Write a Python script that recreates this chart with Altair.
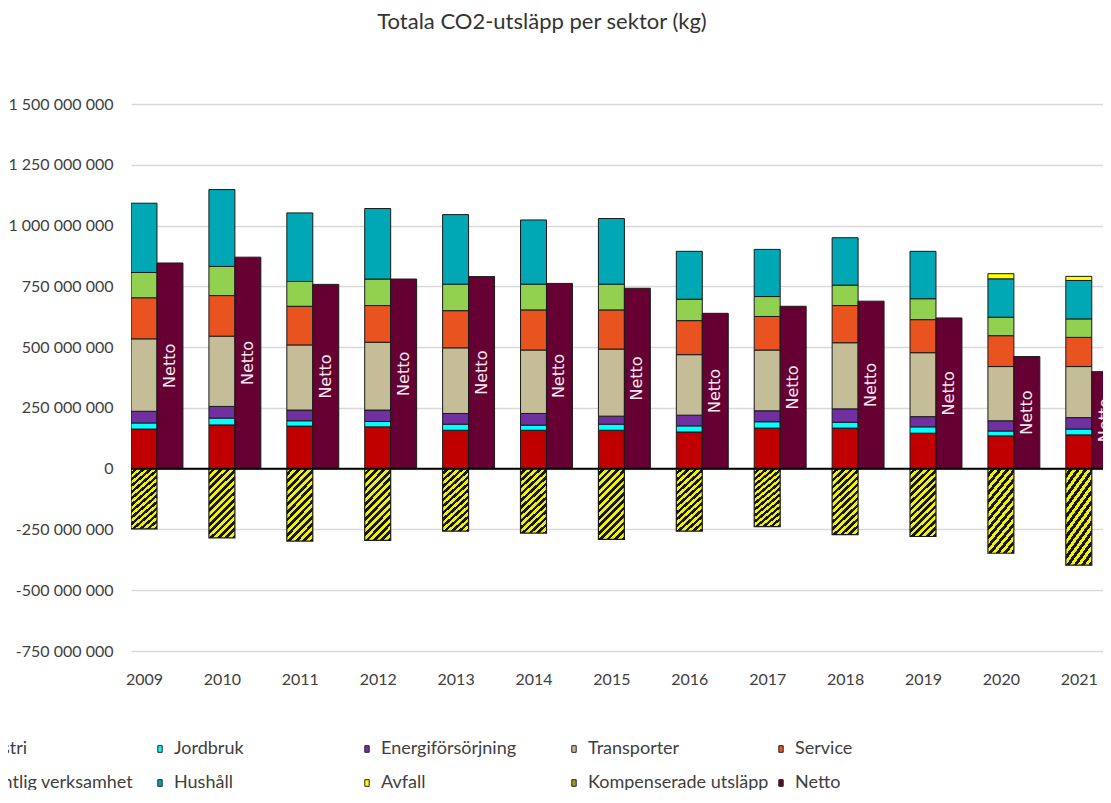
import altair as alt
import pandas as pd

# ---------------- data (values in millions of kg) ----------------
years = [2009, 2010, 2011, 2012, 2013, 2014, 2015, 2016, 2017, 2018, 2019, 2020, 2021]

industri = [163, 180, 175, 172, 158, 158, 158, 151, 167, 167, 146, 135, 139]
jordbruk = [25, 28, 22, 22, 25, 21, 25, 25, 26, 24, 26, 20, 24]
energi = [48, 48, 44, 47, 44, 48, 33, 44, 45, 55, 42, 42, 47]
transporter = [298, 289, 268, 279, 270, 261, 276, 249, 250, 272, 263, 223, 210]
service = [169, 167, 159, 151, 153, 165, 161, 140, 138, 153, 136, 127, 120]
offentlig = [104, 120, 102, 109, 109, 106, 106, 88, 82, 84, 86, 76, 76]
hushall = [285, 316, 282, 290, 286, 264, 270, 197, 194, 195, 195, 158, 158]
avfall = [0, 0, 0, 0, 0, 0, 0, 0, 0, 0, 0, 21, 17]
kompenserade = [-248, -285, -298, -295, -257, -265, -291, -257, -238, -271, -279, -348, -397]
netto = [846, 870, 758, 780, 790, 762, 742, 639, 668, 689, 620, 461, 399]

sectors = ["Industri", "Jordbruk", "Energiförsörjning", "Transporter", "Service",
           "Offentlig verksamhet", "Hushåll", "Avfall"]
series = [industri, jordbruk, energi, transporter, service, offentlig, hushall, avfall]
legend_names = sectors + ["Kompenserade utsläpp", "Netto"]
colors = ["#C00000", "#00FFFF", "#7030A0", "#C4BD97", "#E8531F",
          "#92D050", "#00A8B5", "#FFFF00", "#9E9E14", "#660033"]

y_ticks = [-750e6, -500e6, -250e6, 0, 250e6, 500e6, 750e6, 1000e6, 1250e6, 1500e6]
M = 1_000_000

rows = []
for i, (name, vals) in enumerate(zip(sectors, series)):
    for yr, v in zip(years, vals):
        if v > 0:
            rows.append({"year": yr, "sector": name, "order": i, "value": v * M})
stack_df = pd.DataFrame(rows)

single_df = pd.DataFrame({
    "year": years,
    "komp": [v * M for v in kompenserade],
    "netto": [v * M for v in netto],
})

# ---------------- styling ----------------
FONT = "Lato, Carlito, sans-serif"
step_px = 77.9
plot_w = 972
plot_h = 547
x0_dom = 2009 - 13 / step_px
x_scale = alt.Scale(domain=[x0_dom, x0_dom + plot_w / step_px], nice=False, zero=False)
y_scale = alt.Scale(domain=[-750e6, 1500e6], nice=False)

x_axis = alt.Axis(values=years, format="d", grid=False, ticks=False, domain=False,
                  labelFont=FONT, labelFontSize=16, labelColor="#404040",
                  labelPadding=20, title=None)
y_axis = alt.Axis(values=y_ticks, grid=True, gridColor="#d9d9d9", gridWidth=1.5,
                  ticks=False, domain=False, labelFont=FONT, labelFontSize=16,
                  labelColor="#404040", labelPadding=18, title=None,
                  labelExpr="(datum.value < 0 ? '-' : '') + replace(format(abs(datum.value), ',d'), regexp(',', 'g'), ' ')")

# hatch imitation for compensated emissions
n_stripes = 13
stops = []
for k in range(n_stripes):
    a = k / n_stripes
    b = (k + 0.5) / n_stripes
    c = (k + 1) / n_stripes
    stops += [{"offset": a, "color": "#F2F200"}, {"offset": b, "color": "#F2F200"},
              {"offset": b, "color": "#151515"}, {"offset": c, "color": "#151515"}]
hatch = {"gradient": "linear", "x1": 0, "y1": 0, "x2": 0.446, "y2": 1.205, "stops": stops}

legend = alt.Legend(orient="none", direction="horizontal", legendX=-187, legendY=636,
                    columns=5, title=None,
                    symbolType="M-0.4,-0.6H0.4V0.6H-0.4Z", symbolSize=121,
                    symbolStrokeColor="#262626", symbolStrokeWidth=1,
                    labelFont=FONT, labelFontSize=18, labelColor="#404040",
                    gridAlign="all", columnPadding=3, rowPadding=16,
                    labelOffset=5, padding=0, labelLimit=400)

stack = alt.Chart(stack_df).transform_stack(
    stack="value", groupby=["year"], sort=[alt.SortField("order", order="ascending")],
    as_=["v0", "v1"]
).transform_calculate(
    xa="datum.year - 1/6", xb="datum.year + 1/6"
).mark_bar(stroke="#1a1a1a", strokeWidth=1, clip=True).encode(
    x=alt.X("xa:Q", scale=x_scale, axis=x_axis),
    x2="xb:Q",
    y=alt.Y("v0:Q", scale=y_scale, axis=y_axis),
    y2="v1:Q",
    color=alt.Color("sector:N", scale=alt.Scale(domain=legend_names, range=colors), legend=legend),
)

komp = alt.Chart(single_df).transform_calculate(
    xa="datum.year - 1/6", xb="datum.year + 1/6", zero="0"
).mark_bar(fill=hatch, stroke="#1a1a1a", strokeWidth=1.2, clip=True).encode(
    x=alt.X("xa:Q", scale=x_scale, axis=x_axis),
    x2="xb:Q",
    y=alt.Y("komp:Q", scale=y_scale, axis=y_axis),
    y2="zero:Q",
)

netto_bars = alt.Chart(single_df).transform_calculate(
    xa="datum.year + 1/6", xb="datum.year + 1/2", zero="0"
).mark_bar(color="#660033", stroke="#1a1a1a", strokeWidth=1, clip=True).encode(
    x=alt.X("xa:Q", scale=x_scale, axis=x_axis),
    x2="xb:Q",
    y=alt.Y("netto:Q", scale=y_scale, axis=y_axis),
    y2="zero:Q",
)

netto_text = alt.Chart(single_df).transform_calculate(
    xc="datum.year + 1/3", yc="datum.netto / 2", label="'Netto'"
).mark_text(angle=270, color="#F3E9EF", font="DejaVu Sans", fontSize=16,
            align="center", baseline="middle", clip=True).encode(
    x=alt.X("xc:Q", scale=x_scale, axis=x_axis),
    y=alt.Y("yc:Q", scale=y_scale, axis=y_axis),
    text="label:N",
)

zero_rule = alt.Chart(pd.DataFrame({"v": [0]})).mark_rule(color="#000000", strokeWidth=2).encode(
    y=alt.Y("v:Q", scale=y_scale, axis=y_axis)
)

chart = alt.layer(stack, komp, netto_bars, netto_text, zero_rule).properties(
    width=plot_w,
    height=plot_h,
    title=alt.TitleParams("Totala CO2-utsläpp per sektor (kg)", font=FONT, fontSize=22,
                          fontWeight="normal", color="#333333", anchor="middle",
                          frame="group", dx=-75, offset=62),
    autosize=alt.AutoSizeParams(type="none"),
    padding={"left": 123, "top": 96, "right": 0, "bottom": 139},
).configure_view(stroke=None)

chart.save("out.html", embed_options={"renderer": "svg", "actions": False})
